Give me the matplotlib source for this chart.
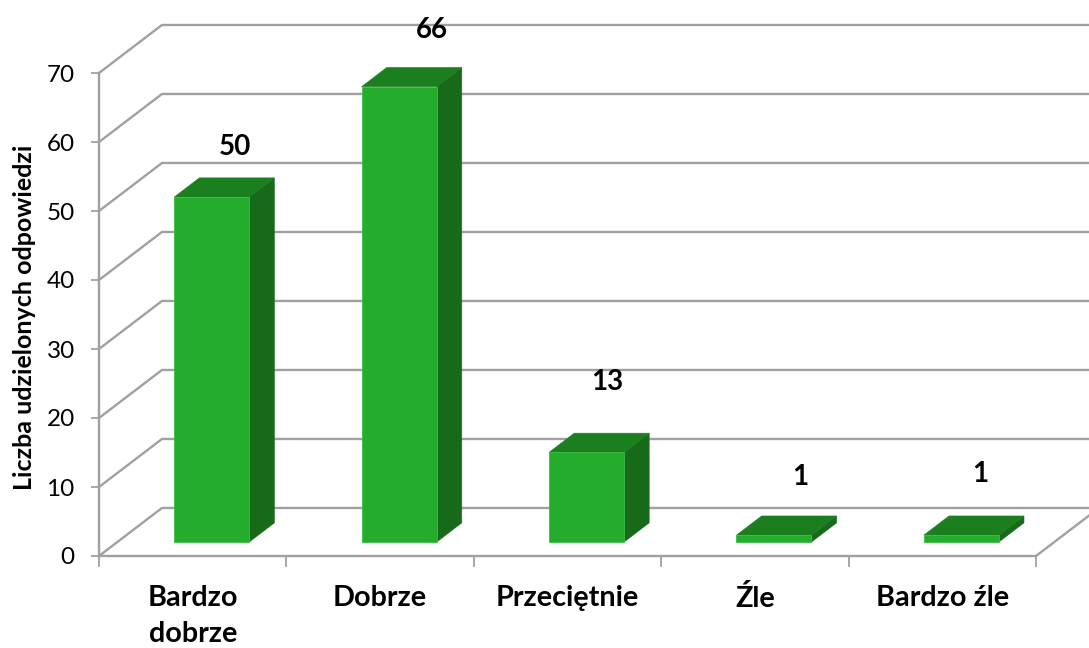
import matplotlib
matplotlib.use("Agg")
import matplotlib.pyplot as plt
import numpy as np

categories = ["Bardzo\ndobrze", "Dobrze", "Przeciętnie", "Źle", "Bardzo źle"]
values = [50, 66, 13, 1, 1]
y_ticks = [0, 10, 20, 30, 40, 50, 60, 70]
y_label = "Liczba udzielonych odpowiedzi"

plt.rcParams['font.family'] = ['Lato', 'DejaVu Sans']

# Pseudo 3D: depth runs from 0 (front) to 1 (back wall)
DEPTH_X = 0.336  # one category = 187 px, depth = 63 px
DEPTH_Y = 6.96   # in value units
BAR_X0, BAR_X1 = 0.304, 0.704
BAR_D0, BAR_D1 = 0.29, 0.69

GRID = '#a0a0a0'
FRONT = '#24ac2c'
TOP = '#1b7f20'
SIDE = '#176a1a'
EDGE = '#3dbb45'


def px(x, y, d=0.0):
    return x + d * DEPTH_X, y + d * DEPTH_Y


W, H = 1089, 648
fig = plt.figure(figsize=(W / 100, H / 100), dpi=100)
ax = fig.add_axes([99 / W, (H - 556) / H, 937 / W, 483 / H])
ax.set_xlim(0, len(categories))
ax.set_ylim(0, 70)
ax.patch.set_visible(False)

# walls
for t in y_ticks:
    x0, y0 = px(0, t)
    x1, y1 = px(0, t, 1)
    x2, y2 = px(len(categories), t, 1)
    ax.plot([x0, x1, x2], [y0, y1, y2], color=GRID, lw=1.7, clip_on=False, zorder=1,
            solid_joinstyle='miter')
x0, y0 = px(len(categories), 0)
x1, y1 = px(len(categories), 0, 1)
ax.plot([x0, x1], [y0, y1], color=GRID, lw=1.7, clip_on=False, zorder=1)

# bars
for i, v in enumerate(values):
    xa, xb = i + BAR_X0, i + BAR_X1
    fl = px(xa, 0, BAR_D0)
    fr = px(xb, 0, BAR_D0)
    tl = px(xa, v, BAR_D0)
    tr = px(xb, v, BAR_D0)
    bl = px(xa, v, BAR_D1)
    br = px(xb, v, BAR_D1)
    rb = px(xb, 0, BAR_D1)
    ax.fill(*zip(tr, br, rb, fr), color=SIDE, lw=0.4, clip_on=False, zorder=3)
    ax.fill(*zip(tl, bl, br, tr), color=TOP, lw=0.4, clip_on=False, zorder=3)
    ax.fill(*zip(fl, tl, tr, fr), facecolor=FRONT, edgecolor=EDGE, lw=0.6, clip_on=False, zorder=4)

# value labels, hand placed in the original
label_dx = [0.227, 0.277, 0.21, 0.24, 0.204]
label_dy = [9.33, 10.3, 12.15, 10.5, 10.9]
for i, v in enumerate(values):
    ax.text(i + 0.5 + label_dx[i], v + label_dy[i], str(v), ha='center', va='center',
            fontsize=20, fontweight='bold', color='black', zorder=6, clip_on=False)

# axes
for s in ['top', 'right']:
    ax.spines[s].set_visible(False)
for s in ['left', 'bottom']:
    ax.spines[s].set_color(GRID)
    ax.spines[s].set_linewidth(1.7)
    ax.spines[s].set_zorder(2)
ax.set_yticks(y_ticks)
ax.tick_params(axis='y', length=5.5, width=1.3, color=GRID, labelsize=17.5, pad=12)
ax.set_xticks(np.arange(len(categories) + 1))
ax.set_xticklabels([])
ax.tick_params(axis='x', which='major', length=8, width=1.3, color=GRID)
ax.set_xticks(np.arange(len(categories)) + 0.5, minor=True)
ax.set_xticklabels(categories, minor=True, fontsize=20.7, fontweight='bold', linespacing=1.45)
ax.tick_params(axis='x', which='minor', length=0, pad=21)
fig.text(25 / W, 1 - 317 / H, y_label, rotation=90, ha='center', va='center',
         fontsize=18, fontweight='bold')

plt.savefig("out.png", dpi=100)
